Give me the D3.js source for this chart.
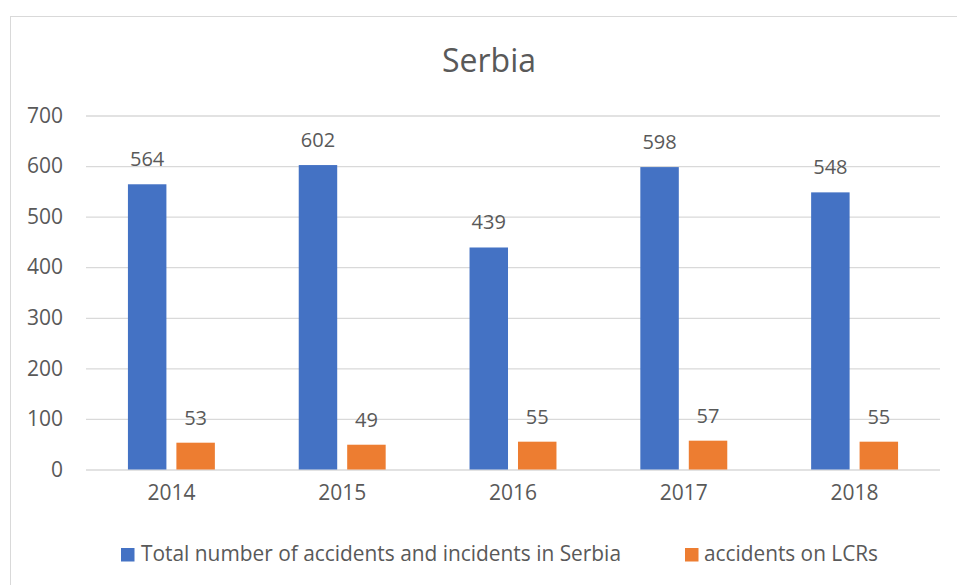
<!DOCTYPE html>
<html><head><meta charset="utf-8">
<script src="https://cdn.jsdelivr.net/npm/d3@7"></script>
<style>body{margin:0;background:#fff}svg{display:block}text{font-family:"Open Sans",sans-serif;fill:#595959}</style>
</head><body><svg id="c" width="957" height="585"></svg>
<script>
const years = ["2014","2015","2016","2017","2018"];
const seriesNames = ["Total number of accidents and incidents in Serbia","accidents on LCRs"];
const totalAccidents = [564,602,439,598,548];
const lcrAccidents = [53,49,55,57,55];
const yTicks = [0,100,200,300,400,500,600,700];
const colors = ["#4472C4","#ED7D31"];
const series = [totalAccidents, lcrAccidents];

const svg = d3.select("#c");
svg.append("rect").attr("x",10.5).attr("y",16.5).attr("width",958).attr("height",1000)
  .attr("fill","#fff").attr("stroke","#d9d9d9").attr("stroke-width",1);

const x0 = d3.scaleBand().domain(years).range([86,940]).paddingInner(0.491).paddingOuter(0.2455);
const x1 = d3.scaleBand().domain([0,1]).range([0,x0.bandwidth()]).paddingInner(0.206);
const y = d3.scaleLinear().domain([0,700]).range([469.5,115.5]);

// gridlines
const yAxis = d3.axisLeft(y).tickValues(yTicks).tickSize(-(940-86)).tickFormat(d3.format("d")).tickPadding(23);
const gy = svg.append("g").attr("transform","translate(86,0)").call(yAxis);
gy.select(".domain").remove();
gy.selectAll(".tick line").attr("stroke","#d9d9d9").attr("stroke-width",1.3);
gy.selectAll(".tick text").style("font-size","21px").attr("fill","#595959").style("font-family","'Open Sans',sans-serif");

// x labels
const xAxis = d3.axisBottom(x0).tickSize(0).tickPadding(16);
const gx = svg.append("g").attr("transform","translate(0,469.5)").call(xAxis);
gx.select(".domain").remove();
gx.selectAll(".tick text").style("font-size","21px").attr("fill","#595959").style("font-family","'Open Sans',sans-serif");

// bars
series.forEach((vals,si)=>{
  const g = svg.append("g");
  g.selectAll("rect").data(vals).join("rect")
    .attr("x",(d,i)=>x0(years[i])+x1(si))
    .attr("y",d=>y(d))
    .attr("width",x1.bandwidth())
    .attr("height",d=>y(0)-y(d))
    .attr("fill",colors[si]);
  g.selectAll("text").data(vals).join("text")
    .attr("x",(d,i)=>x0(years[i])+x1(si)+x1.bandwidth()/2)
    .attr("y",d=>y(d)-18)
    .attr("text-anchor","middle")
    .style("font-size","20px")
    .text(d=>d);
});

// title
svg.append("text").attr("x",489).attr("y",72).attr("text-anchor","middle")
  .style("font-size","32px").text("Serbia");

// legend
const legendX = [{sq:121,tx:141,w:480},{sq:685,tx:704,w:174}];
seriesNames.forEach((n,i)=>{
  svg.append("rect").attr("x",legendX[i].sq).attr("y",548).attr("width",13.5).attr("height",13.5).attr("fill",colors[i]);
  svg.append("text").attr("x",legendX[i].tx).attr("y",561).style("font-size","21px")
    .attr("textLength",legendX[i].w).attr("lengthAdjust","spacingAndGlyphs").text(n);
});
</script></body></html>
